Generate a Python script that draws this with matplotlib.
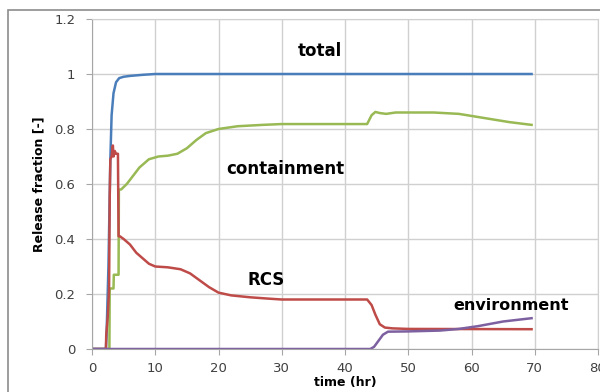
import matplotlib.pyplot as plt
from matplotlib.patches import Rectangle

# ---- data ----
total_t = [0, 2.2, 2.3, 2.6, 2.9, 3.1, 3.4, 3.8, 4.3, 5.0, 6.0, 8.0, 10.0, 20.0, 69.5]
total_v = [0, 0, 0.05, 0.3, 0.69, 0.85, 0.93, 0.97, 0.985, 0.99, 0.993, 0.997, 1.0, 1.0, 1.0]

cont_t = [0, 2.75, 2.8, 3.4, 3.45, 4.2, 4.25, 4.6, 5.5, 6.5, 7.5, 9.0, 10.5, 12.0, 13.5,
          15.0, 16.5, 18.0, 20.0, 23.0, 27.0, 30.0, 43.5, 44.2, 44.8, 45.5, 46.5, 48.0,
          54.0, 58.0, 62.0, 66.0, 69.5]
cont_v = [0, 0, 0.22, 0.22, 0.27, 0.27, 0.58, 0.58, 0.60, 0.63, 0.66, 0.69, 0.70, 0.703, 0.71,
          0.73, 0.76, 0.785, 0.80, 0.81, 0.815, 0.818, 0.818, 0.85, 0.862, 0.858, 0.855, 0.86,
          0.86, 0.855, 0.84, 0.825, 0.815]

rcs_t = [0, 2.2, 2.25, 2.5, 2.7, 2.8, 2.9, 3.1, 3.3, 3.4, 3.6, 3.8, 4.1, 4.2, 4.4, 5.0,
         6.0, 7.0, 8.0, 9.0, 10.0, 12.0, 14.0, 15.5, 17.0, 18.5, 20.0, 22.0, 25.0, 28.0,
         30.0, 43.5, 44.2, 44.8, 45.5, 46.3, 47.5, 50.0, 69.5]
rcs_v = [0, 0, 0.05, 0.12, 0.22, 0.55, 0.69, 0.70, 0.74, 0.70, 0.72, 0.71, 0.71, 0.41, 0.41, 0.40,
         0.38, 0.35, 0.33, 0.31, 0.30, 0.297, 0.29, 0.275, 0.25, 0.225, 0.205, 0.195, 0.188, 0.183,
         0.18, 0.18, 0.16, 0.125, 0.09, 0.078, 0.075, 0.073, 0.072]

env_t = [0, 44.0, 44.6, 45.3, 46.0, 46.8, 50.0, 55.0, 58.0, 61.0, 65.0, 69.5]
env_v = [0, 0, 0.008, 0.03, 0.052, 0.063, 0.064, 0.067, 0.073, 0.083, 0.1, 0.112]

xticks = [0, 10, 20, 30, 40, 50, 60, 70, 80]
yticks = [0, 0.2, 0.4, 0.6, 0.8, 1.0, 1.2]
ytick_labels = ['0', '0.2', '0.4', '0.6', '0.8', '1', '1.2']

fig = plt.figure(figsize=(6, 3.92), dpi=100)
# outer chart frame (right/bottom run off the image)
fig.patches.append(Rectangle((8 / 600, -0.2), 1.2, 1 - 10 / 392 + 0.2, transform=fig.transFigure,
                             fill=False, edgecolor='#8c8c8c', linewidth=1.2))
ax = fig.add_axes([92 / 600, 1 - 349 / 392, 506 / 600, 330 / 392])

ax.plot(total_t, total_v, color='#4A7EBB', lw=1.8)
ax.plot(cont_t, cont_v, color='#98B954', lw=1.8)
ax.plot(rcs_t, rcs_v, color='#BE4B48', lw=1.8)
ax.plot(env_t, env_v, color='#7D60A0', lw=1.8)

ax.set_xlim(0, 80)
ax.set_ylim(0, 1.2)
ax.set_xticks(xticks)
ax.set_yticks(yticks)
ax.set_yticklabels(ytick_labels)
ax.grid(True, color='#d0d0d0', lw=1)
ax.set_axisbelow(True)
for s in ax.spines.values():
    s.set_color('#d0d0d0')
ax.spines['left'].set_color('#a6a6a6')
ax.spines['bottom'].set_color('#a6a6a6')
ax.tick_params(axis='both', colors='#a6a6a6', labelcolor='#404040', labelsize=9.5, length=4)
ax.tick_params(axis='x', pad=5)
ax.tick_params(axis='y', pad=8)

ax.set_xlabel('time (hr)', fontsize=9, fontweight='bold', labelpad=1)
ax.set_ylabel('Release fraction [-]', fontsize=9, fontweight='bold', labelpad=6)

lab = dict(fontsize=12, fontweight='bold', ha='center', va='center')
ax.text(36, 1.082, 'total', **lab)
ax.text(30.5, 0.655, 'containment', **lab)
ax.text(27.5, 0.252, 'RCS', **lab)
ax.text(66.3, 0.16, 'environment', fontsize=11.5, fontweight='bold', ha='center', va='center')

fig.savefig('out.png', dpi=100)
